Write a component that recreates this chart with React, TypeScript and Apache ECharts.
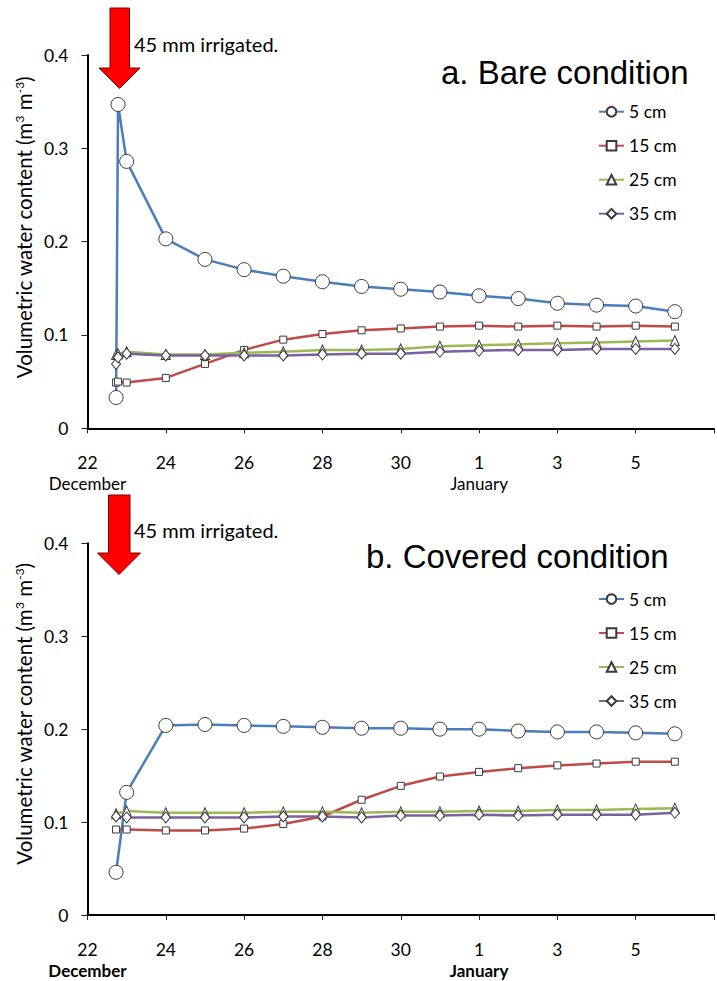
import React, { useEffect, useRef } from 'react';
import * as echarts from 'echarts';

const FONT = 'Lato';
const TITLE_FONT = '"Liberation Sans", Arial, sans-serif';

const DEPTHS = ['5 cm', '15 cm', '25 cm', '35 cm'];
const COLORS = ['#4A7EBB', '#BE4B48', '#98B954', '#7D60A0'];
const SYMBOLS = ['circle', 'rect', 'triangle', 'diamond'];
const SYMBOL_SIZES: any[] = [14, 7, [9, 10], [9, 11]];

// x tick labels every 2 days starting 22 December (day index 0)
const X_TICK_LABELS = ['22', '24', '26', '28', '30', '1', '3', '5', '7'];
const MONTH_AT_TICK: Record<number, string> = { 0: 'December', 5: 'January' };

// day index counted from 22 December
const BARE_DAYS = [0.73, 0.78, 1, 2, 3, 4, 5, 6, 7, 8, 9, 10, 11, 12, 13, 14, 15];
const BARE_5 = [0.033, 0.347, 0.286, 0.203, 0.181, 0.170, 0.163, 0.157, 0.152, 0.149, 0.146, 0.142, 0.139, 0.134, 0.132, 0.131, 0.125];
const BARE_15 = [0.049, 0.050, 0.049, 0.054, 0.069, 0.084, 0.095, 0.101, 0.105, 0.107, 0.109, 0.110, 0.109, 0.110, 0.109, 0.110, 0.109];
const BARE_25 = [0.079, 0.080, 0.082, 0.079, 0.079, 0.081, 0.082, 0.084, 0.084, 0.085, 0.088, 0.089, 0.090, 0.091, 0.092, 0.093, 0.094];
const BARE_35 = [0.069, 0.076, 0.080, 0.078, 0.078, 0.078, 0.078, 0.079, 0.080, 0.080, 0.082, 0.083, 0.084, 0.084, 0.085, 0.085, 0.085];

const COVERED_DAYS = [0.73, 1, 2, 3, 4, 5, 6, 7, 8, 9, 10, 11, 12, 13, 14, 15];
const COVERED_5 = [0.046, 0.132, 0.204, 0.205, 0.204, 0.203, 0.202, 0.201, 0.201, 0.200, 0.200, 0.198, 0.197, 0.197, 0.196, 0.195];
const COVERED_15 = [0.092, 0.092, 0.091, 0.091, 0.093, 0.098, 0.106, 0.124, 0.139, 0.149, 0.154, 0.158, 0.161, 0.163, 0.165, 0.165];
const COVERED_25 = [0.109, 0.112, 0.110, 0.110, 0.110, 0.111, 0.111, 0.110, 0.111, 0.111, 0.112, 0.112, 0.113, 0.113, 0.114, 0.115];
const COVERED_35 = [0.106, 0.105, 0.105, 0.105, 0.105, 0.106, 0.106, 0.105, 0.107, 0.107, 0.108, 0.107, 0.108, 0.108, 0.108, 0.110];

const PANEL_TITLES = ['a. Bare condition', 'b. Covered condition'];
const ANNOTATION = '45 mm irrigated.';
const Y_NAME = 'Volumetric water content (m{sup|3} m{sup|-3})';

const pairs = (xs: number[], ys: number[]) => xs.map((x, i) => [x, ys[i]]);

export default function App() {
  const ref = useRef<HTMLDivElement>(null);
  useEffect(() => {
    if (!ref.current) return;
    const chart = echarts.init(ref.current, null, { renderer: 'svg' });
    const panels = [
      { days: BARE_DAYS, vals: [BARE_5, BARE_15, BARE_25, BARE_35] },
      { days: COVERED_DAYS, vals: [COVERED_5, COVERED_15, COVERED_25, COVERED_35] },
    ];
    const gridTops = [55, 543.3];
    const gridH = [373.3, 372.4];
    const PX_PER_DAY = 40.26;
    const grids = gridTops.map((t, i) => ({ left: 87.5, top: t, width: 16 * PX_PER_DAY, height: gridH[i], containLabel: false }));
    const xAxes = [0, 1].map((i) => ({
      type: 'value', gridIndex: i, min: 0, max: 16, interval: 2,
      axisLine: { show: true, onZero: false, lineStyle: { color: '#000', width: 2 } },
      axisTick: { show: true, inside: false, length: 5, lineStyle: { color: '#222', width: 1 } },
      splitLine: { show: false },
      axisLabel: {
        margin: 24, fontFamily: FONT, fontSize: 17.5, color: '#000', lineHeight: 21,
        formatter: (v: number) => {
          const k = Math.round(v / 2);
          if (k >= 8) return '';
          const lab = X_TICK_LABELS[k];
          const m = MONTH_AT_TICK[k];
          return m ? `${lab}\n{m|${m}}` : lab;
        },
        rich: { m: { fontFamily: FONT, fontSize: 17, color: '#000', lineHeight: 21, fontWeight: i === 1 ? 'bold' : 'normal' } },
      },
    }));
    const yAxes = [0, 1].map((i) => ({
      type: 'value', gridIndex: i, min: 0, max: 0.4, interval: 0.1,
      axisLine: { show: true, lineStyle: { color: '#000', width: 2 } },
      axisTick: { show: true, inside: false, length: 6, lineStyle: { color: '#222', width: 1 } },
      splitLine: { show: false },
      axisLabel: {
        margin: 19, fontFamily: FONT, fontSize: 17.5, color: '#000',
        formatter: (v: number) => (v === 0 ? '0' : v.toFixed(1)),
      },
    }));
    const series: any[] = [];
    panels.forEach((p, pi) => {
      p.vals.forEach((vals, si) => {
        series.push({
          type: 'line', name: DEPTHS[si], xAxisIndex: pi, yAxisIndex: pi,
          data: pairs(p.days, vals),
          color: COLORS[si],
          symbol: SYMBOLS[si], symbolSize: SYMBOL_SIZES[si], showAllSymbol: true,
          lineStyle: { color: COLORS[si], width: 2.5 },
          itemStyle: { color: '#fff', borderColor: '#3a3a3a', borderWidth: 1 },
          z: 2 + si,
          clip: false,
        });
      });
    });
    const legendTops = [101.7, 589];
    const legends = legendTops.map((t) => ({
      orient: 'vertical', left: 598, top: t, padding: 0, itemWidth: 25, itemHeight: 12, itemGap: 14,
      textStyle: { fontFamily: FONT, fontSize: 17.5, color: '#000', lineHeight: 20 },
      data: DEPTHS, selectedMode: false,
    }));
    const arrow = (pts: number[][]) => ({
      type: 'polygon', shape: { points: pts },
      style: { fill: '#FF0000', stroke: '#7a0000', lineWidth: 1 }, z: 100,
    });
    const textEl = (x: number, y: number, text: string, size: number, family: string) => ({
      type: 'text', x, y, z: 100,
      style: { text, fontSize: size, fontFamily: family, fill: '#000', align: 'left', verticalAlign: 'middle' },
    });
    const yName = (y: number) => ({
      type: 'text', x: 24, y, rotation: Math.PI / 2, z: 100,
      style: {
        text: Y_NAME, fontSize: 20.5, fontFamily: FONT, fill: '#000', align: 'center', verticalAlign: 'middle',
        rich: { sup: { fontSize: 12, fontFamily: FONT, fill: '#000', verticalAlign: 'top', lineHeight: 12 } },
      },
    });
    const graphic = [
      arrow([[110, 8], [129.5, 8], [129.5, 68], [140, 68], [119.5, 88.5], [99, 68], [110, 68]]),
      arrow([[108.5, 495], [130, 495], [130, 553], [140.5, 553], [119, 574.5], [97.5, 553], [108.5, 553]]),
      textEl(134, 43.5, ANNOTATION, 20, FONT),
      textEl(134, 530, ANNOTATION, 20, FONT),
      textEl(441, 72, PANEL_TITLES[0], 33, TITLE_FONT),
      textEl(366, 556, PANEL_TITLES[1], 33, TITLE_FONT),
      yName(227.5),
      yName(714),
    ];
    chart.setOption({
      animation: false,
      backgroundColor: '#fff',
      grid: grids, xAxis: xAxes, yAxis: yAxes, series, legend: legends, graphic,
    });
    return () => chart.dispose();
  }, []);
  return <div ref={ref} style={{ position: 'fixed', left: 0, top: 0, width: 717, height: 981 }} />;
}
